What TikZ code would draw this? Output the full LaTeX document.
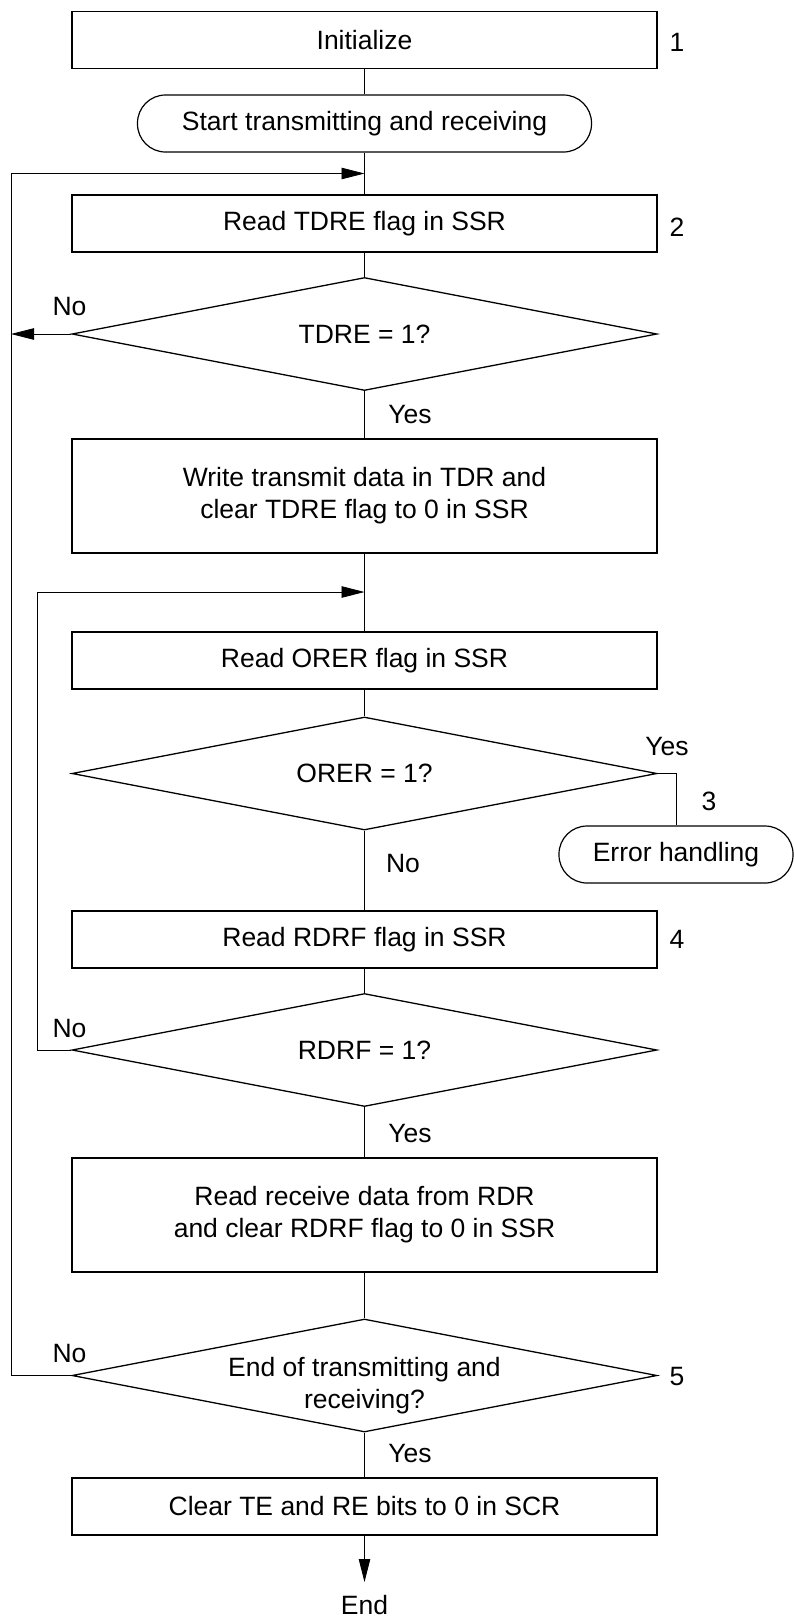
\documentclass[tikz,border=0pt]{standalone}
\usepackage{fontspec}
\setmainfont{Liberation Sans}
\usetikzlibrary{shapes.geometric,arrows.meta}
\begin{document}
\begin{tikzpicture}[x=1pt,y=-1pt,
  every node/.style={font=\fontsize{26.5}{32}\selectfont},
  box/.style={draw, line width=1.3pt, minimum width=585pt, minimum height=57pt, inner sep=0pt, align=center},
  tallbox/.style={box, minimum height=114pt},
  term/.style={draw, line width=1.2pt, rounded corners=28pt, minimum height=57pt, inner sep=0pt},
  dec/.style={draw, diamond, line width=1.3pt, minimum width=585pt, minimum height=113pt, shape aspect=5.18, inner sep=0pt, align=center},
  conn/.style={line width=0.8pt, draw=black},
  arr/.style={conn, -{Triangle[length=23pt,width=11.5pt]}},
  lab/.style={inner sep=0pt}
]
\useasboundingbox (0,0) rectangle (794,1618);

\node[box] (init) at (364.5,40) {Initialize};
\node[term, minimum width=454pt] (start) at (364.5,123.5) {Start transmitting and receiving};
\node[box] (rt) at (364.5,223.5) {Read TDRE flag in SSR};
\node[dec] (d1) at (364.5,334) {TDRE = 1?};
\node[tallbox] (wr) at (364.5,496) {Write transmit data in TDR and\\clear TDRE flag to 0 in SSR};
\node[box] (ro) at (364.5,660.5) {Read ORER flag in SSR};
\node[dec] (d2) at (364.5,773.5) {ORER = 1?};
\node[term, minimum width=234pt] (err) at (676,854.5) {Error handling};
\node[box] (rr) at (364.5,939.5) {Read RDRF flag in SSR};
\node[dec] (d3) at (364.5,1050) {RDRF = 1?};
\node[tallbox] (rd) at (364.5,1215) {Read receive data from RDR\\and clear RDRF flag to 0 in SSR};
\node[dec] (d4) at (364.5,1375.5) {};
\node[align=center, inner sep=0pt] (d4t) at (364.5,1386) {End of transmitting and\\receiving?};
\node[box] (clr) at (364.5,1506.5) {Clear TE and RE bits to 0 in SCR};
\node[inner sep=0pt, anchor=north] (end) at (364.5,1595.5) {End};

\coordinate (j1) at (364.5,173.5);
\coordinate (j2) at (364.5,592);
\coordinate (L1) at (11,173.5);
\coordinate (L2) at (37,592);

\draw[conn] (init) -- (start);
\draw[conn] (start) -- (rt);
\draw[conn] (rt) -- (d1);
\draw[arr] (d1.west) -- (d1.west -| L1);
\draw[conn] (d1) -- (wr);
\draw[conn] (wr) -- (ro);
\draw[conn] (ro) -- (d2);
\draw[conn] (d2.east) -| (err.north);
\draw[conn] (d2) -- (rr);
\draw[conn] (rr) -- (d3);
\draw[arr] (d3.west) -- (d3.west -| L2) -- (L2) -- (j2);
\draw[conn] (d3) -- (rd);
\draw[conn] (rd) -- (d4);
\draw[arr] (d4.west) -- (d4.west -| L1) -- (L1) -- (j1);
\draw[conn] (d4) -- (clr);
\draw[arr] (clr) -- ([yshift=13.5pt]end.north);

\node[lab] (n1) at (69.5,307) {No};
\node[lab] (y1) at (410,415) {Yes};
\node[lab] (y2) at (667,747) {Yes};
\node[lab] (num3) at (709,801) {3};
\node[lab] (no2) at (403,864) {No};
\node[lab] (n3) at (69.5,1028) {No};
\node[lab] (y3) at (410,1133) {Yes};
\node[lab] (n4) at (69.5,1353) {No};
\node[lab] (y4) at (410,1453) {Yes};
\node[lab] (num1) at (677,42) {1};
\node[lab] (num2) at (677,227) {2};
\node[lab] (num4) at (677,939) {4};
\node[lab] (num5) at (677,1376) {5};
\end{tikzpicture}
\end{document}
